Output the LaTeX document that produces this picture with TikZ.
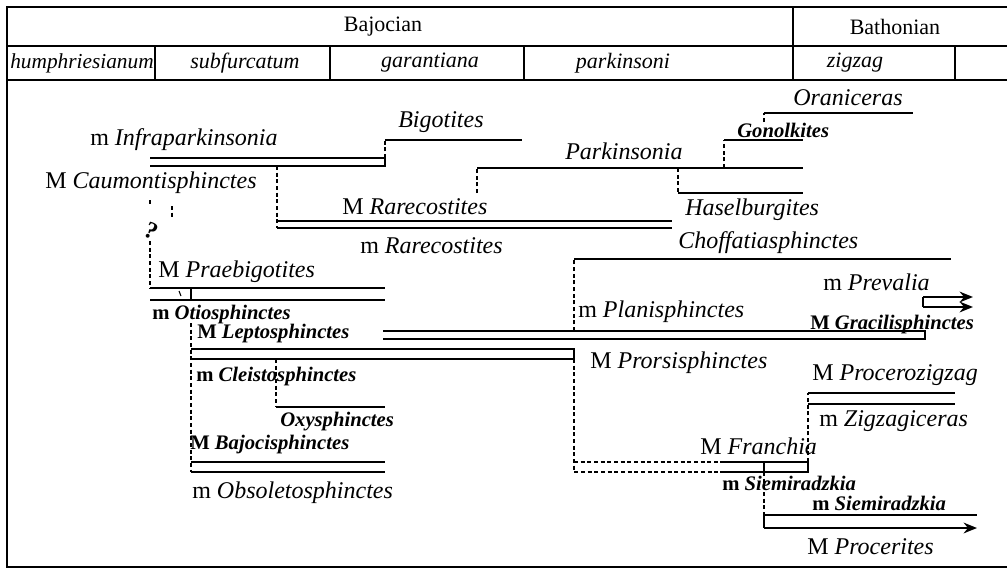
\documentclass[tikz,border=0pt]{standalone}
\usepackage{fontspec}
\setmainfont{Liberation Serif}
\usetikzlibrary{arrows.meta}

\begin{document}
\begin{tikzpicture}[x=0.75pt, y=-0.75pt,
    bar/.style={line width=1.7pt},
    link/.style={line width=0.9pt, dash pattern=on 3pt off 2pt},
    frame/.style={line width=1.2pt},
    lab/.style={anchor=west, inner sep=0pt, font=\fontsize{18}{20}\selectfont\itshape},
    slab/.style={anchor=west, inner sep=0pt, font=\fontsize{15.5}{18}\selectfont\bfseries\itshape},
    head/.style={inner sep=0pt, font=\fontsize{16.5}{18}\selectfont}]
    \useasboundingbox (0,0) rectangle (1007,571);

    % Rahmen und Kopfzeilen
    \draw[frame] (1007,7) -- (7,7) -- (7,567) -- (1007,567);
    \draw[frame] (7,46) -- (1007,46);
    \draw[frame] (7,80) -- (1007,80);
    \draw[frame] (793,7) -- (793,80);
    \foreach \xd in {155,330,524,955}
        \draw[frame] (\xd,46) -- (\xd,80);
    \node[head] (bajoc) at (383,27) {Bajocian};
    \node[head] (bathon) at (895,27) {Bathonian};
    \node[head, font=\fontsize{16}{18}\selectfont\itshape] (humph) at (82,63) {humphriesianum};
    \node[head, font=\fontsize{16.5}{18}\selectfont\itshape] (subf) at (245,63) {subfurcatum};
    \node[head, font=\fontsize{16.5}{18}\selectfont\itshape] (garant) at (430,63) {garantiana};
    \node[head, font=\fontsize{16.5}{18}\selectfont\itshape] (parkin) at (623,63) {parkinsoni};
    \node[head, font=\fontsize{16.5}{18}\selectfont\itshape] (zigzag) at (855,63) {zigzag};

    % Infraparkinsonia / Caumontisphinctes, Bigotites
    \node[lab] (infra) at (90,140) {\upshape m \itshape Infraparkinsonia};
    \node[lab] (caum) at (45,183) {\upshape M \itshape Caumontisphinctes};
    \draw[bar] (150,158) -- (385,158) -- (385,166) -- (150,166);
    \draw[link] (385,158) -- (385,140);
    \draw[bar] (385,140) -- (522,140);
    \node[lab] (bigot) at (398,122) {Bigotites};

    % Rarecostites
    \draw[link] (277,166) -- (277,228);
    \draw[bar] (277,221) -- (672,221);
    \draw[bar] (277,228) -- (672,228);
    \node[lab] (Mrare) at (342,207) {\upshape M \itshape Rarecostites};
    \node[lab] (mrare) at (360,246) {\upshape m \itshape Rarecostites};

    % Parkinsonia, Haselburgites, Gonolkites, Oraniceras
    \draw[link] (477,193) -- (477,168);
    \draw[bar] (477,168) -- (803,168);
    \node[lab] (parkia) at (565,151) {Parkinsonia};
    \draw[link] (678,168) -- (678,193);
    \draw[bar] (678,193) -- (803,193);
    \node[lab] (hasel) at (685,210) {Haselburgites};
    \draw[link] (724,168) -- (724,140);
    \draw[bar] (724,140) -- (803,140);
    \node[slab] (gonol) at (737,130) {Gonolkites};
    \draw[link] (764,122) -- (764,113);
    \draw[bar] (764,113) -- (913,113);
    \node[lab] (orani) at (793,98) {Oraniceras};

    % Praebigotites / Otiosphinctes
    \draw[link] (150,200) -- (150,206);
    \draw[link] (172,206) -- (172,219);
    \node[inner sep=0pt, rotate=-25, font=\fontsize{18}{19}\selectfont\bfseries] (query) at (151,231) {?};
    \draw[link] (150,241) -- (150,288);
    \node[lab] (praeb) at (158,272) {\upshape M \itshape Praebigotites};
    \draw[bar] (150,288) -- (385,288);
    \draw[bar] (150,300) -- (385,300);
    \draw[bar] (191,288) -- (191,300);
    \draw[line width=0.8pt] (179,291) -- (181,296);
    \node[slab] (otio) at (152,315) {\upshape m \itshape Otiosphinctes};

    % Leptosphinctes / Cleistosphinctes, Oxysphinctes, Bajocisphinctes
    \draw[link] (191,323) -- (191,472);
    \node[slab] (lepto) at (197,334) {\upshape M \itshape Leptosphinctes};
    \draw[bar] (191,349) -- (574,349) -- (574,359) -- (191,359);
    \node[slab] (cleist) at (196,377) {\upshape m \itshape Cleistosphinctes};
    \draw[link] (276,359) -- (276,407);
    \draw[bar] (276,407) -- (385,407);
    \node[slab] (oxy) at (280,422) {Oxysphinctes};
    \node[slab] (bajoci) at (190,445) {\upshape M \itshape Bajocisphinctes};
    \draw[bar] (191,462) -- (385,462);
    \draw[bar] (191,472) -- (385,472);
    \node[lab] (obsol) at (192,493) {\upshape m \itshape Obsoletosphinctes};

    % Planisphinctes / Gracilisphinctes, Choffatiasphinctes, Prevalia
    \draw[bar] (383,331) -- (925,331) -- (925,339) -- (383,339);
    \node[lab] (plani) at (578,312) {\upshape m \itshape Planisphinctes};
    \node[slab] (gracil) at (810,325) {\upshape M \itshape Gracilisphinctes};
    \draw[link] (574,331) -- (574,259);
    \draw[bar] (574,259) -- (951,259);
    \node[lab] (choff) at (678,243) {Choffatiasphinctes};
    \node[lab] (preva) at (823,282) {\upshape m \itshape Prevalia};
    \draw[bar] (923,297) -- (923,307);
    \draw[bar, -{Stealth[length=10pt, width=8pt]}] (923,297) -- (973,297);
    \draw[bar, -{Stealth[length=10pt, width=8pt]}] (923,307) -- (973,307);

    % Prorsisphinctes, Franchia
    \node[lab] (prors) at (590,363) {\upshape M \itshape Prorsisphinctes};
    \draw[link] (574,359) -- (574,472) -- (720,472);
    \draw[link] (574,462) -- (720,462);
    \draw[bar] (720,462) -- (808,462) -- (808,472) -- (720,472);
    \draw[bar] (764,462) -- (764,472);
    \node[lab] (franch) at (700,446) {\upshape M \itshape Franchia};

    % Procerozigzag / Zigzagiceras
    \draw[link] (808,462) -- (808,393);
    \draw[bar] (808,393) -- (955,393);
    \draw[bar] (808,404) -- (955,404);
    \node[lab] (procz) at (812,375) {\upshape M \itshape Procerozigzag};
    \node[lab] (zigzi) at (819,421) {\upshape m \itshape Zigzagiceras};

    % Siemiradzkia / Procerites
    \node[slab] (siem) at (722,483) {\upshape m \itshape Siemiradzkia};
    \draw[link] (764,472) -- (764,515);
    \draw[bar] (764,515) -- (764,528);
    \draw[bar] (764,515) -- (977,515);
    \draw[bar, -{Stealth[length=10pt, width=8pt]}] (764,528) -- (977,528);
    \node[slab] (siemb) at (812,503) {\upshape m \itshape Siemiradzkia};
    \node[lab] (proce) at (807,547) {\upshape M \itshape Procerites};
\end{tikzpicture}
\end{document}
